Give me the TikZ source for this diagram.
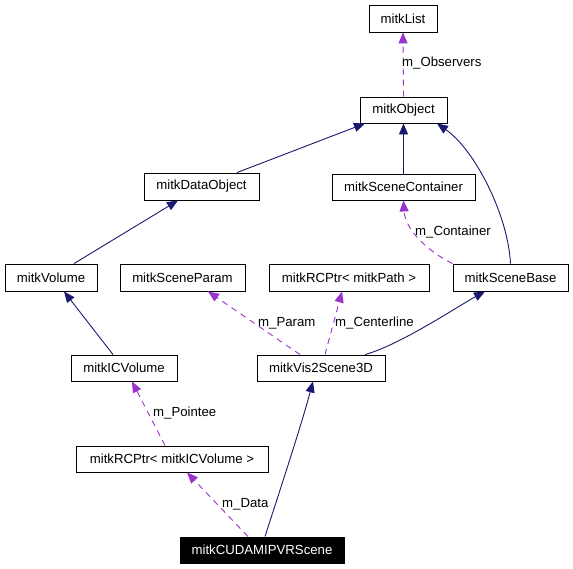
\documentclass[tikz,border=0pt]{standalone}
\usepackage{fontspec}
\setmainfont{Liberation Sans}
\usetikzlibrary{arrows.meta}
\definecolor{edgeblue}{HTML}{191970}
\definecolor{edgepurple}{HTML}{9A32CD}
\begin{document}
\begin{tikzpicture}[x=1pt,y=-1pt,
  box/.style={draw=black,line width=0.9pt,fill=white,inner sep=0pt,minimum height=26pt,font=\fontsize{13.2}{15}\selectfont},
  darkbox/.style={box,fill=black,text=white},
  inherit/.style={draw=edgeblue,line width=0.9pt,-{Triangle[length=11pt,width=9pt]}},
  usage/.style={draw=edgepurple,line width=0.9pt,dash pattern=on 6pt off 5pt,-{Triangle[length=11pt,width=9pt]}},
  lbl/.style={anchor=west,inner sep=0pt,font=\fontsize{13.2}{15}\selectfont}]
\useasboundingbox[fill=white] (0,0) rectangle (573,568);

\node[box,minimum width=68pt,minimum height=27pt] (list) at (403,18.5) {mitkList};
\node[box,minimum width=87pt] (object) at (403.5,110) {mitkObject};
\node[box,minimum width=143pt] (container) at (403.5,187) {mitkSceneContainer};
\node[box,minimum width=115pt,minimum height=27pt] (dataobj) at (201.5,186.5) {mitkDataObject};
\node[box,minimum width=92pt,minimum height=27pt] (volume) at (51,277.5) {mitkVolume};
\node[box,minimum width=125pt,minimum height=27pt] (sceneparam) at (182.5,277.5) {mitkSceneParam};
\node[box,minimum width=160pt,minimum height=27pt] (rcpath) at (349,277.5) {mitkRCPtr< mitkPath >};
\node[box,minimum width=115pt,minimum height=27pt] (scenebase) at (510.5,277.5) {mitkSceneBase};
\node[box,minimum width=106pt] (icvolume) at (124,368) {mitkICVolume};
\node[box,minimum width=128pt] (vis2) at (321,368) {mitkVis2Scene3D};
\node[box,minimum width=192pt] (rcicv) at (172,459) {mitkRCPtr< mitkICVolume >};
\node[darkbox,minimum width=164pt] (cuda) at (262,550) {mitkCUDAMIPVRScene};

% usage (dashed)
\draw[usage] (object.north) -- (list.south);
\node[lbl] (lobs) at (402,63) {m\_Observers};

\draw[usage] (scenebase.north west) .. controls (425,250) and (405,228) .. (container.south);
\node[lbl] (lcont) at (415,232) {m\_Container};

\draw[usage] ([xshift=4pt]vis2.north) -- ([xshift=-7pt]rcpath.south);
\node[lbl] (lcent) at (335,323) {m\_Centerline};

\draw[usage] ([xshift=-21pt]vis2.north) -- ([xshift=25.5pt]sceneparam.south);
\node[lbl] (lparam) at (258,323) {m\_Param};

\draw[usage] ([xshift=-7pt]rcicv.north) -- ([xshift=8pt]icvolume.south);
\node[lbl] (lpoint) at (153,413) {m\_Pointee};

\draw[usage] ([xshift=-14pt]cuda.north) -- ([xshift=15pt]rcicv.south);
\node[lbl] (ldata) at (222,504) {m\_Data};

% inheritance (solid)
\draw[inherit] ([xshift=35.5pt]dataobj.north) -- ([xshift=-38.5pt]object.south);
\draw[inherit] (container.north) -- (object.south);
\draw[inherit] (scenebase.north) .. controls (508,215) and (475,150) .. ([xshift=33.5pt]object.south);
\draw[inherit] ([xshift=23pt]volume.north) -- ([xshift=-23.5pt]dataobj.south);
\draw[inherit] ([xshift=-11pt]icvolume.north) -- ([xshift=13pt]volume.south);
\draw[inherit] ([xshift=44pt]vis2.north) .. controls (400,345) and (460,305) .. ([xshift=-25.5pt]scenebase.south);
\draw[inherit] ([xshift=3pt]cuda.north) .. controls (275,505) and (300,430) .. ([xshift=-8pt]vis2.south);
\end{tikzpicture}
\end{document}
